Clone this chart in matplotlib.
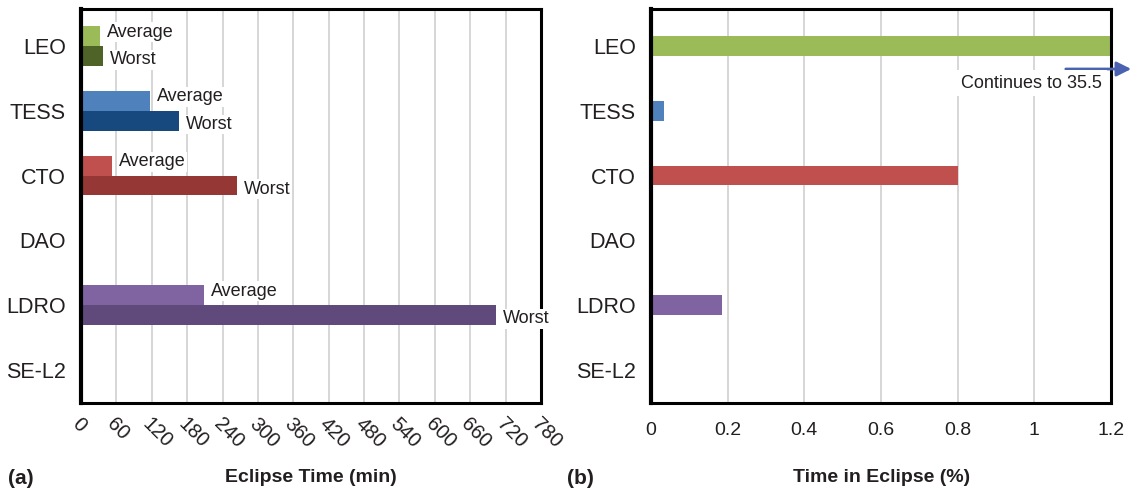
import matplotlib
matplotlib.use("Agg")
import matplotlib.pyplot as plt
import matplotlib.transforms as mtransforms
import numpy as np

plt.rcParams['font.family'] = ['Liberation Sans', 'DejaVu Sans']

orbits = ["LEO", "TESS", "CTO", "DAO", "LDRO", "SE-L2"]
# eclipse duration, minutes (DAO and SE-L2 have none)
avg_min = [32, 117, 53, 0, 209, 0]
worst_min = [37, 166, 264, 0, 703, 0]
# fraction of time in eclipse, percent
pct_eclipse = [35.5, 0.035, 0.80, 0, 0.184, 0]

avg_colors = ["#9BBB59", "#4F81BD", "#C0504D", "#8064A2", "#8064A2", "#8064A2"]
worst_colors = ["#4F6228", "#17497E", "#953735", "#604A7B", "#604A7B", "#604A7B"]

xt_left = list(range(0, 781, 60))
xt_right = [0, 0.2, 0.4, 0.6, 0.8, 1, 1.2]
xt_right_lbl = ["0", "0.2", "0.4", "0.6", "0.8", "1", "1.2"]

fig = plt.figure(figsize=(11.34, 4.93), dpi=100)
W, H = 1134, 493
ax1 = fig.add_axes([81 / W, 1 - 403 / H, 460 / W, 394 / H])
ax2 = fig.add_axes([651 / W, 1 - 403 / H, 460 / W, 394 / H])

y = np.arange(len(orbits))
bh = 0.305
txt = "#231F20"

# (a) eclipse time
ax1.barh(y - bh / 2, avg_min, height=bh, color=avg_colors, zorder=2)
ax1.barh(y + bh / 2, worst_min, height=bh, color=worst_colors, zorder=2)
for i in range(len(orbits)):
    if avg_min[i] > 0:
        ax1.annotate("Average", (avg_min[i], y[i] - bh / 2 - 0.06), xytext=(5, 0),
                     textcoords="offset points", va="center", ha="left", fontsize=13,
                     color=txt, zorder=4,
                     bbox=dict(facecolor="white", edgecolor="none", pad=1))
        ax1.annotate("Worst", (worst_min[i], y[i] + bh / 2 + 0.06), xytext=(5, 0),
                     textcoords="offset points", va="center", ha="left", fontsize=13,
                     color=txt, zorder=4, annotation_clip=False,
                     bbox=dict(facecolor="white", edgecolor="none", pad=1))
ax1.set_xlim(0, 780)
ax1.set_xticks(xt_left)
ax1.set_xticklabels([str(v) for v in xt_left], rotation=-45, ha="left", va="center",
                    rotation_mode="anchor", fontsize=14.5)

# (b) percentage of time in eclipse
ax2.barh(y, pct_eclipse, height=bh, color=avg_colors, zorder=2)
ax2.set_xlim(0, 1.2)
ax2.set_xticks(xt_right)
ax2.set_xticklabels(xt_right_lbl, fontsize=14)
fig.text(1102 / W, 1 - 83 / H, "Continues to 35.5", ha="right", va="center",
         fontsize=13, color=txt, zorder=5,
         bbox=dict(facecolor="white", edgecolor="none", boxstyle="square,pad=0.25"))
ax2.annotate("", xy=(1134 / W, 1 - 69 / H), xytext=(1063 / W, 1 - 69 / H),
             xycoords="figure fraction", zorder=6,
             arrowprops=dict(arrowstyle="-|>", color="#4A62B0", lw=2,
                             mutation_scale=22))

for ax in (ax1, ax2):
    ax.set_ylim(5.51, -0.57)
    ax.set_yticks(y)
    ax.set_yticklabels(orbits, fontsize=15.5, color=txt)
    ax.tick_params(axis="y", length=0, pad=11)
    ax.tick_params(axis="x", length=0, labelcolor=txt)
    ax.grid(axis="x", color="#D0D0D0", lw=1.2, zorder=0)
    ax.set_axisbelow(True)
    for s in ax.spines.values():
        s.set_linewidth(2.2)
        s.set_color("black")
ax1.spines["left"].set_linewidth(3)
ax2.spines["left"].set_linewidth(3)
ax1.tick_params(axis="x", pad=13)
ax2.tick_params(axis="x", pad=14)

# nudge the rotated labels a little left of their ticks
shift = mtransforms.ScaledTranslation(-6 / 100, 0, fig.dpi_scale_trans)
for lab in ax1.get_xticklabels():
    lab.set_transform(lab.get_transform() + shift)

fig.text(311 / W, 1 - 478 / H, "Eclipse Time (min)", ha="center", va="center",
         fontsize=14, fontweight="bold", color=txt)
fig.text(882 / W, 1 - 478 / H, "Time in Eclipse (%)", ha="center", va="center",
         fontsize=14, fontweight="bold", color=txt)
fig.text(8 / W, 1 - 478 / H, "(a)", ha="left", va="center", fontsize=15,
         fontweight="bold", color=txt)
fig.text(567 / W, 1 - 478 / H, "(b)", ha="left", va="center", fontsize=15,
         fontweight="bold", color=txt)

fig.savefig("out.png", dpi=100)
